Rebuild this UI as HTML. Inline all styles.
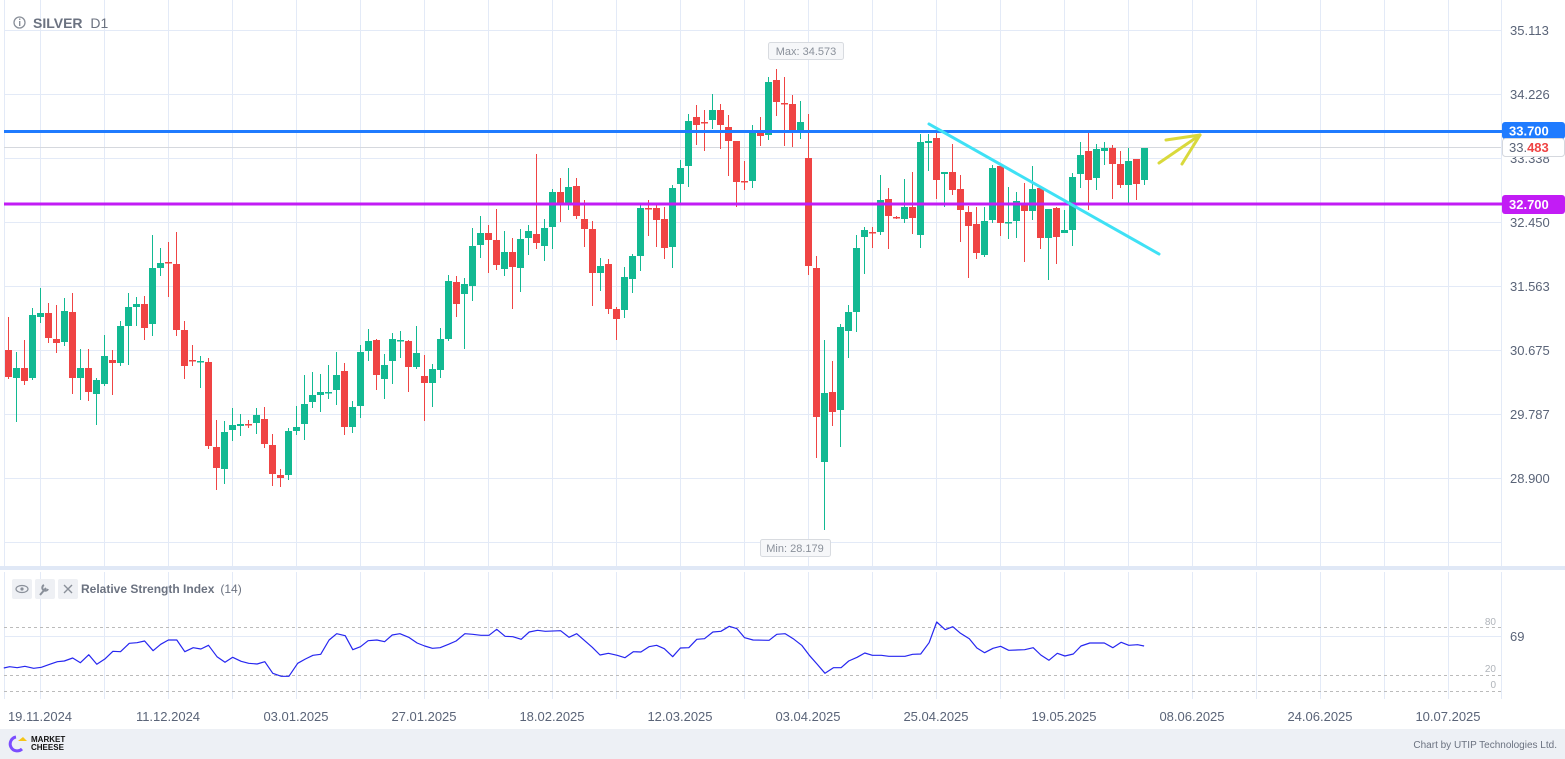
<!DOCTYPE html>
<html><head><meta charset="utf-8"><style>
html,body{margin:0;padding:0;background:#fff;width:1565px;height:759px;overflow:hidden;font-family:"Liberation Sans",sans-serif}
</style></head><body>
<svg id="s" width="1565" height="759" xmlns="http://www.w3.org/2000/svg" style="position:absolute;left:0;top:0;font-family:'Liberation Sans',sans-serif"></svg>
<script>
var s=document.getElementById('s');var h='';
function L(x1,y1,x2,y2,c,w,extra){h+='<line x1="'+x1+'" y1="'+y1+'" x2="'+x2+'" y2="'+y2+'" stroke="'+c+'" stroke-width="'+(w||1)+'" '+(extra||'')+'/>';}
function T(x,y,t,sz,c,extra){h+='<text x="'+x+'" y="'+y+'" font-size="'+sz+'" fill="'+c+'" '+(extra||'')+'>'+t+'</text>';}
var gc='#e3eaf7';
// main grid
for(var x=40;x<1500;x+=64){L(x+.5,0,x+.5,566,gc);L(x+.5,572,x+.5,699,gc);}
L(4.5,0,4.5,566,gc);L(4.5,572,4.5,699,gc);
[30,94,158,222,286,350,414,478,542].forEach(function(y){L(4,y+.5,1501,y+.5,gc);});
L(1501.5,0,1501.5,566,gc);L(1501.5,572,1501.5,699,gc);
// separator
h+='<rect x="0" y="566" width="1565" height="4" fill="#e0e8f6"/>';
// price labels
[['35.113',30],['34.226',94],['33.338',158],['32.450',222],['31.563',286],['30.675',350],['29.787',414],['28.900',478]].forEach(function(a){T(1510,a[1]+5,a[0],13,'#5a6478');});
// current price line
L(4,147.5,1501,147.5,'#d5d8de',1);
// candles
var D=`r 350 377 317 379
g 368 378 352 422
r 368 381 340 385
g 315 378 308 380
g 313 317 288 323
r 313 338 303 343
r 339 343 305 353
g 311 342 298 346
r 312 378 293 394
g 368 378 349 400
r 368 392 349 401
g 380 394 378 425
g 356 384 335 386
r 360 363 350 395
g 326 363 321 366
g 307 326 293 365
g 304 307 297 326
r 304 328 296 340
g 268 324 235 336
g 263 268 248 276
r 262 263 242 297
r 264 330 232 336
r 330 366 321 379
r 360 361 345 366
g 361 362 356 388
r 362 446 358 449
r 447 468 420 490
g 432 469 421 484
g 425 430 408 441
g 424 426 414 436
r 424 425 420 428
g 415 423 408 434
r 419 444 407 448
r 445 474 434 486
r 475 478 469 487
g 431 475 428 480
g 427 431 406 435
g 404 424 375 440
g 395 402 372 408
g 392 395 374 412
g 392 393 365 399
g 375 390 352 405
r 371 427 363 435
g 407 427 401 433
g 352 406 345 418
g 341 351 329 361
r 340 375 339 390
g 365 379 354 399
g 339 361 333 384
g 340 341 331 358
r 341 367 340 392
g 353 367 326 369
r 376 383 355 421
g 369 383 364 407
g 339 370 328 378
g 281 339 275 341
r 282 304 276 317
g 284 294 278 349
g 246 286 228 301
g 233 245 216 258
r 233 240 225 273
r 240 265 209 270
g 252 269 231 276
r 252 267 238 309
g 239 268 229 292
g 231 238 225 255
r 234 243 154 249
g 228 246 219 261
g 192 227 189 249
r 192 203 178 222
g 187 203 168 210
r 186 216 178 219
r 219 229 200 247
r 229 273 221 306
g 266 273 258 291
r 264 309 259 314
r 309 319 307 340
g 277 310 267 318
g 256 279 254 293
g 208 256 205 271
r 208 209 200 236
r 208 220 205 247
r 219 248 207 259
g 188 247 185 268
g 168 184 160 203
g 121 166 114 187
r 117 125 105 145
r 122 123 110 151
g 110 120 94 129
r 110 125 104 149
r 127 141 115 176
r 141 182 141 207
r 181 182 161 190
g 132 181 125 188
r 132 136 117 146
g 82 135 77 140
r 80 102 69 116
r 103 104 77 146
r 104 132 95 147
g 122 132 101 139
r 158 266 114 275
r 268 417 256 458
g 393 462 340 530
r 392 412 361 426
g 327 410 324 447
g 312 331 305 358
g 248 312 235 332
g 230 237 227 274
r 232 233 227 248
g 200 232 175 235
r 199 216 188 249
r 217 218 216 219
g 207 219 179 223
r 207 218 172 234
g 142 235 134 248
g 141 143 134 171
r 138 180 132 199
g 172 174 172 207
r 172 190 144 195
r 189 210 175 242
r 212 226 206 278
r 224 253 207 259
g 221 255 207 257
g 168 220 165 223
r 166 223 165 236
g 222 223 187 239
g 201 221 192 238
r 205 211 183 262
g 189 211 166 220
r 188 238 188 249
g 209 238 209 280
r 208 237 207 264
g 230 233 210 233
g 177 230 173 246
g 155 174 142 188
r 151 180 133 210
g 149 178 144 190
g 148 151 142 165
r 148 164 145 199
r 164 185 151 188
g 161 185 148 203
r 159 184 159 200
g 148 180 148 185`.split('\n');
D.forEach(function(l,i){var a=l.trim().split(' ');var c=a[0]=='g'?'#12b992':'#ef4444';var t=+a[1],b=+a[2],hi=+a[3],lo=+a[4];var x=8+8*i;
h+='<rect x="'+x+'" y="'+hi+'" width="1" height="'+(lo-hi)+'" fill="'+c+'"/>';
h+='<rect x="'+(x-3)+'" y="'+t+'" width="7" height="'+Math.max(1.5,b-t)+'" fill="'+c+'"/>';});
// level lines
L(4,131.5,1502,131.5,'#1f7bff',3);L(4,204,1502,204,'#c21cf5',3);
// trend line & arrow
L(929,124,1159,254,'#3fe1f5',3,'stroke-linecap="round"');
h+='<g stroke="#d9d93c" stroke-width="3" stroke-linecap="round" fill="none"><line x1="1159" y1="163" x2="1200" y2="135"/><line x1="1166" y1="140" x2="1200" y2="135"/><line x1="1182" y1="164" x2="1200" y2="135"/></g>';
// axis tags
h+='<rect x="1502" y="122" width="63" height="17" rx="3" fill="#1f7bff"/>';T(1509,135.5,'33.700',13,'#fff','font-weight="bold"');
h+='<rect x="1502.5" y="138.5" width="62" height="18" rx="3" fill="#fff" stroke="#d5d8de"/>';h+='<text x="1509" y="152" font-size="13" fill="#5a6478">33.<tspan fill="#ef4444" font-weight="bold">483</tspan></text>';
h+='<rect x="1502" y="195" width="63" height="19" rx="3" fill="#c21cf5"/>';T(1509,209,'32.700',13,'#fff','font-weight="bold"');
// max/min
h+='<rect x="768.5" y="42.5" width="75" height="17" rx="2" fill="#f6f7f9" stroke="#d8dbe0"/>';T(806,55,'Max: 34.573',11,'#8a909a','text-anchor="middle"');
h+='<rect x="760.5" y="539.5" width="70" height="17" rx="2" fill="#f6f7f9" stroke="#d8dbe0"/>';T(795,552,'Min: 28.179',11,'#8a909a','text-anchor="middle"');
// header
h+='<circle cx="19.5" cy="22.5" r="5.5" fill="none" stroke="#8a909a" stroke-width="1.3"/><rect x="19" y="21" width="1.4" height="5" fill="#8a909a"/><rect x="19" y="18.5" width="1.4" height="1.4" fill="#8a909a"/>';
h+='<text x="33" y="28" font-size="14" fill="#6b7280"><tspan font-weight="bold">SILVER</tspan>  <tspan dx="4">D1</tspan></text>';
// RSI header
[12,35,58].forEach(function(x){h+='<rect x="'+x+'" y="579" width="20" height="20" rx="2" fill="#eef0f4"/>';});
h+='<ellipse cx="22" cy="589" rx="6" ry="3.5" fill="none" stroke="#8a909a" stroke-width="1.2"/><circle cx="22" cy="589" r="1.6" fill="#8a909a"/>';
h+='<path d="M40 595 L46 588 M44 585 a3 3 0 1 0 4 4" stroke="#8a909a" stroke-width="2" fill="none"/>';
h+='<path d="M64 585 L72 593 M72 585 L64 593" stroke="#8a909a" stroke-width="1.4"/>';
h+='<text x="81" y="593" font-size="12" fill="#6b7280"><tspan font-weight="bold">Relative Strength Index</tspan><tspan dx="6">(14)</tspan></text>';
// RSI levels
L(4,627.5,1501,627.5,'#bbbbbb',1,'stroke-dasharray="3,3"');L(4,636.5,1501,636.5,gc);
L(4,675.5,1501,675.5,'#bbbbbb',1,'stroke-dasharray="3,3"');L(4,691.5,1501,691.5,'#bbbbbb',1,'stroke-dasharray="3,3"');
T(1496,625,'80',10,'#b0b4ba','text-anchor="end"');T(1496,672,'20',10,'#b0b4ba','text-anchor="end"');T(1496,688,'0',10,'#b0b4ba','text-anchor="end"');
T(1510,641,'69',13,'#5a6478');
// RSI line
var z5=[[10,174],[25,170],[45,173],[65,169],[88,175],[108,172],[130,163],[150,155],[168,153],[190,144],[210,158],[232,134],[253,163],[275,146],[295,124],[315,125],[338,100],[358,98],[378,93],[400,122],[420,103],[440,90],[462,90],[483,125],[505,113],[525,117],[545,106],[567,140],[588,157],[608,142],[630,154],[650,160],[672,162],[692,155],[713,190],[735,199],[755,199],[778,160],[798,147],[818,136],[838,133],[860,90],[880,71],[902,77],[922,119],[942,110],[962,92],[985,90],[1005,95],[1025,75],[1045,71],[1068,82],[1090,99],[1110,108],[1130,115],[1150,113],[1172,103],[1192,93],[1215,71],[1235,73],[1257,76],[1278,76],[1298,58],[1320,79],[1340,80],[1362,88],[1383,66],[1405,61],[1425,64],[1465,62],[1487,82],[1507,71],[1528,92],[1548,112]];
var z6=[[0,135],[22,130],[45,136],[65,143],[87,125],[107,126],[128,110],[148,106],[168,116],[190,140],[210,114],[232,113],[253,88],[273,86],[295,66],[316,64],[338,49],[358,56],[378,83],[400,90],[442,91],[462,73],[484,71],[505,86],[527,106],[547,136],[567,162],[588,190],[610,173],[630,173],[650,153],[672,142],[692,129],[712,136],[735,136],[755,139],[797,139],[817,133],[838,132],[860,98],[880,36],[902,59],[922,50],[942,70],[965,86],[985,114],[1005,128],[1027,115],[1047,109],[1068,121],[1110,119],[1132,113],[1152,135],[1173,151],[1195,130],[1215,138],[1237,132],[1257,108],[1280,99],[1318,99],[1340,113],[1362,97],[1382,106],[1405,104],[1422,108]];
var k=600/1568;var pts=[];
z5.forEach(function(p){pts.push((p[0]*k).toFixed(1)+','+(610+p[1]/3).toFixed(1));});
z6.forEach(function(p){pts.push((600+p[0]*k).toFixed(1)+','+(610+p[1]/3).toFixed(1));});
h+='<polyline points="'+pts.join(' ')+'" fill="none" stroke="#2626f0" stroke-width="1.2" stroke-linejoin="round"/>';
// dates
[['19.11.2024',40],['11.12.2024',168],['03.01.2025',296],['27.01.2025',424],['18.02.2025',552],['12.03.2025',680],['03.04.2025',808],['25.04.2025',936],['19.05.2025',1064],['08.06.2025',1192],['24.06.2025',1320],['10.07.2025',1448]].forEach(function(a){T(a[1],721,a[0],13,'#5a6478','text-anchor="middle"');});
// footer
h+='<rect x="0" y="729" width="1565" height="30" fill="#edf0f5"/>';
h+='<path d="M16 737 a7 7 0 1 0 6 12" stroke="#7b4dff" stroke-width="3" fill="none"/><path d="M18 741 l5 -4 l4 4z" fill="#f5c518"/>';
h+='<text x="31" y="742" font-size="8" font-weight="bold" fill="#111">MARKET</text><text x="31" y="750" font-size="8" font-weight="bold" fill="#111">CHEESE</text>';
T(1557,748,'Chart by UTIP Technologies Ltd.',10,'#6b7280','text-anchor="end"');
s.innerHTML=h;
</script>
</body></html>
